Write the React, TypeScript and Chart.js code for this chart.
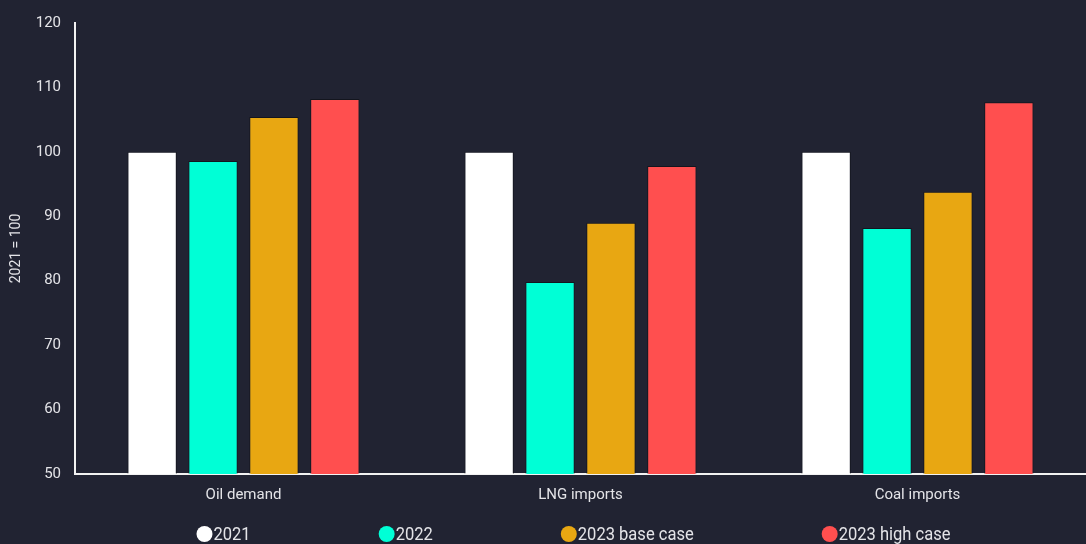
import React, { useEffect, useRef } from "react";
import { Chart, registerables } from "chart.js";

Chart.register(...registerables);

const categories = ["Oil demand", "LNG imports", "Coal imports"];
const seriesLabels = ["2021", "2022", "2023 base case", "2023 high case"];
const values2021 = [100, 100, 100];
const values2022 = [98.6, 79.8, 88.2];
const values2023Base = [105.4, 89.0, 93.8];
const values2023High = [108.2, 97.8, 107.7];
const seriesColors = ["#ffffff", "#00ffd6", "#e8a712", "#ff4f4f"];
const yTicks = [50, 60, 70, 80, 90, 100, 110, 120];

const BG = "#212332";
const TEXT = "#e4e4e8";

const legendPlugin = {
  id: "customLegend",
  afterDraw(chart: any) {
    const ctx = chart.ctx;
    const area = chart.chartArea;
    ctx.save();
    ctx.font = "19px Roboto";
    const r = 8;
    const gap = 128;
    const sx = 0.87;
    const items = chart.data.datasets.map((d: any) => ({
      label: d.label,
      color: d.backgroundColor,
      w: 2 * r + 1 + ctx.measureText(d.label).width * sx,
    }));
    const total = items.reduce((s: number, it: any) => s + it.w, 0) + gap * (items.length - 1);
    let x = (area.left + area.right) / 2 - 7 - total / 2;
    const y = 534;
    ctx.textBaseline = "middle";
    ctx.textAlign = "left";
    for (const it of items) {
      ctx.beginPath();
      ctx.arc(x + r, y, r, 0, Math.PI * 2);
      ctx.fillStyle = it.color;
      ctx.fill();
      ctx.fillStyle = TEXT;
      ctx.save();
      ctx.translate(x + 2 * r + 1, y + 1);
      ctx.scale(sx, 1);
      ctx.fillText(it.label, 0, 0);
      ctx.restore();
      x += it.w + gap;
    }
    ctx.restore();
  },
};

export default function App() {
  const ref = useRef<HTMLCanvasElement | null>(null);
  useEffect(() => {
    if (!ref.current) return;
    const all = [values2021, values2022, values2023Base, values2023High];
    const chart = new Chart(ref.current, {
      type: "bar",
      data: {
        labels: categories,
        datasets: all.map((v, i) => ({
          label: seriesLabels[i],
          data: v,
          backgroundColor: seriesColors[i],
          borderColor: "rgba(0,0,0,0.4)",
          borderWidth: 1,
          categoryPercentage: 0.723,
          barPercentage: 0.81,
        })),
      },
      options: {
        animation: false,
        responsive: true,
        maintainAspectRatio: false,
        layout: { padding: { top: 20, bottom: 28, left: 0, right: 0 } },
        plugins: {
          legend: { display: false },
          tooltip: { enabled: false },
        },
        scales: {
          x: {
            grid: { display: false, drawTicks: false },
            border: { display: true, color: "#f2f2f2", width: 2 },
            ticks: { color: TEXT, font: { family: "Roboto", size: 15 }, padding: 12 },
          },
          y: {
            min: 50,
            max: 120,
            afterBuildTicks: (s: any) => {
              s.ticks = yTicks.map((v) => ({ value: v }));
            },
            afterFit: (s: any) => {
              s.width = 75;
            },
            grid: { display: false, drawTicks: false },
            border: { display: true, color: "#f2f2f2", width: 2 },
            ticks: { color: TEXT, font: { family: "Roboto", size: 15 }, padding: 14 },
            title: {
              display: true,
              text: "2021 = 100",
              color: TEXT,
              font: { family: "Roboto", size: 14 },
              padding: { top: 8, bottom: 0 },
            },
          },
        },
      },
      plugins: [legendPlugin],
    });
    return () => chart.destroy();
  }, []);
  return (
    <div
      style={{
        position: "absolute",
        left: 0,
        top: 0,
        width: 1086,
        height: 544,
        background: BG,
      }}
    >
      <canvas ref={ref} />
    </div>
  );
}
